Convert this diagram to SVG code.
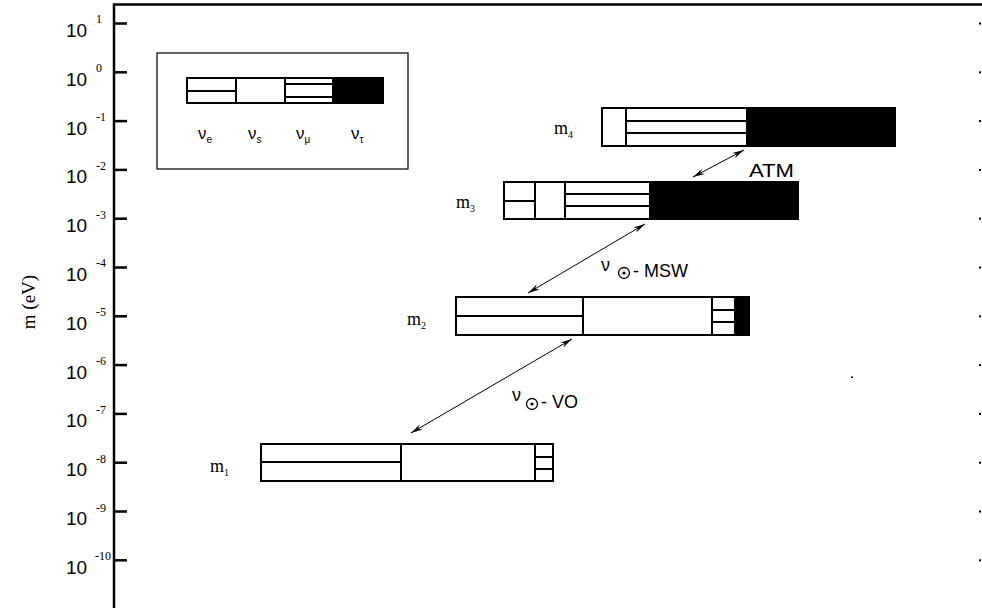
<svg xmlns="http://www.w3.org/2000/svg" width="982" height="608" viewBox="0 0 982 608">
<defs>
<style>
.ax{stroke:#000;stroke-width:2.5;fill:none}
.tk{stroke:#000;stroke-width:2.5}
.bar{fill:#fff;stroke:#000;stroke-width:2}
.ln{stroke:#000;stroke-width:2}
.blk{fill:#000;stroke:#000;stroke-width:2}
.num{font-family:"Liberation Sans",Arial,sans-serif;font-size:19px;fill:#000}
.sup{font-family:"Liberation Serif","Times New Roman",serif;font-size:12px;fill:#000}
.mlab{font-family:"Liberation Serif","Times New Roman",serif;font-size:18px;fill:#000}
.ylab{font-family:"Liberation Serif","Times New Roman",serif;font-size:19px;fill:#000}
.msub{font-family:"Liberation Serif","Times New Roman",serif;font-size:10px;fill:#000}
.lab{font-family:"Liberation Sans",Arial,sans-serif;font-size:18px;fill:#000}
.nu{font-family:"Liberation Sans",Arial,sans-serif;font-size:17px;fill:#000}
.nsub{font-family:"Liberation Sans",Arial,sans-serif;font-size:10px;fill:#000}
.arr{stroke:#000;stroke-width:1;fill:none;marker-start:url(#ah);marker-end:url(#ah)}
.dot{fill:#000}
</style>
<marker id="ah" viewBox="0 0 12 6" refX="12" refY="3" markerWidth="12" markerHeight="6" markerUnits="userSpaceOnUse" orient="auto-start-reverse">
<path d="M0,0 L12,3 L0,6 L4,3 Z" fill="#000"/>
</marker>
</defs>
<rect width="982" height="608" fill="#fff"/>

<g id="axes">
<path class="ax" d="M114,608 L114,4.5 L982,4.5"/>
<g class="tk">
<line x1="114" y1="23.5" x2="127" y2="23.5"/>
<line x1="114" y1="72.3" x2="127" y2="72.3"/>
<line x1="114" y1="121.1" x2="127" y2="121.1"/>
<line x1="114" y1="169.9" x2="127" y2="169.9"/>
<line x1="114" y1="218.7" x2="127" y2="218.7"/>
<line x1="114" y1="267.5" x2="127" y2="267.5"/>
<line x1="114" y1="316.3" x2="127" y2="316.3"/>
<line x1="114" y1="365.1" x2="127" y2="365.1"/>
<line x1="114" y1="413.9" x2="127" y2="413.9"/>
<line x1="114" y1="462.7" x2="127" y2="462.7"/>
<line x1="114" y1="511.5" x2="127" y2="511.5"/>
<line x1="114" y1="560.3" x2="127" y2="560.3"/>
</g>
<g class="dot">
<rect x="979" y="22.5" width="2" height="2"/>
<rect x="979" y="71.3" width="2" height="2"/>
<rect x="979" y="120.1" width="2" height="2"/>
<rect x="979" y="168.9" width="2" height="2"/>
<rect x="979" y="217.7" width="2" height="2"/>
<rect x="979" y="266.5" width="2" height="2"/>
<rect x="979" y="315.3" width="2" height="2"/>
<rect x="979" y="364.1" width="2" height="2"/>
<rect x="979" y="412.9" width="2" height="2"/>
<rect x="979" y="461.7" width="2" height="2"/>
<rect x="979" y="510.5" width="2" height="2"/>
<rect x="979" y="559.3" width="2" height="2"/>
<rect x="851" y="376.5" width="2" height="1.5"/>
</g>
<g id="ticklabels">
<text class="num" x="66" y="37">10</text><text class="sup" x="96" y="23">1</text>
<text class="num" x="66" y="85.8">10</text><text class="sup" x="96" y="72">0</text>
<text class="num" x="66" y="134.6">10</text><text class="sup" x="96" y="121">-1</text>
<text class="num" x="66" y="183.4">10</text><text class="sup" x="96" y="170">-2</text>
<text class="num" x="66" y="232.2">10</text><text class="sup" x="96" y="219">-3</text>
<text class="num" x="66" y="281">10</text><text class="sup" x="96" y="267">-4</text>
<text class="num" x="66" y="329.8">10</text><text class="sup" x="96" y="316">-5</text>
<text class="num" x="66" y="378.6">10</text><text class="sup" x="96" y="365">-6</text>
<text class="num" x="66" y="427.4">10</text><text class="sup" x="96" y="414">-7</text>
<text class="num" x="66" y="476.2">10</text><text class="sup" x="96" y="463">-8</text>
<text class="num" x="66" y="525">10</text><text class="sup" x="96" y="512">-9</text>
<text class="num" x="66" y="573.8">10</text><text class="sup" x="95" y="560">-10</text>
</g>
<text class="ylab" transform="translate(35,302) rotate(-90)" text-anchor="middle">m  (eV)</text>
</g>

<g id="legend">
<rect x="157" y="53" width="251" height="116" fill="#fff" stroke="#000" stroke-width="1.2"/>
<rect class="bar" x="187" y="78" width="196" height="25"/>
<rect class="blk" x="333" y="78" width="50" height="25"/>
<line class="ln" x1="236" y1="78" x2="236" y2="103"/>
<line class="ln" x1="285" y1="78" x2="285" y2="103"/>
<line class="ln" x1="187" y1="91" x2="236" y2="91"/>
<line class="ln" x1="285" y1="84" x2="333" y2="84"/>
<line class="ln" x1="285" y1="97" x2="333" y2="97"/>
<text class="nu" x="198" y="139">ν<tspan class="nsub" dy="4">e</tspan></text>
<text class="nu" x="248" y="139">ν<tspan class="nsub" dy="4">s</tspan></text>
<text class="nu" x="296" y="139">ν<tspan class="nsub" dy="4">μ</tspan></text>
<text class="nu" x="351" y="139">ν<tspan class="nsub" dy="4">τ</tspan></text>
</g>

<g id="m4">
<rect class="bar" x="602" y="108" width="293" height="38"/>
<rect class="blk" x="747" y="108" width="148" height="38"/>
<line class="ln" x1="626" y1="108" x2="626" y2="146"/>
<line class="ln" x1="626" y1="121" x2="747" y2="121"/>
<line class="ln" x1="626" y1="133" x2="747" y2="133"/>
<text class="mlab" x="554" y="134">m<tspan class="msub" dy="4">4</tspan></text>
</g>

<g id="m3">
<rect class="bar" x="504" y="182" width="294" height="37"/>
<rect class="blk" x="650" y="182" width="148" height="37"/>
<line class="ln" x1="535" y1="182" x2="535" y2="219"/>
<line class="ln" x1="565" y1="182" x2="565" y2="219"/>
<line class="ln" x1="504" y1="201" x2="535" y2="201"/>
<line class="ln" x1="565" y1="194" x2="650" y2="194"/>
<line class="ln" x1="565" y1="206" x2="650" y2="206"/>
<text class="mlab" x="456" y="208">m<tspan class="msub" dy="4">3</tspan></text>
</g>

<g id="m2">
<rect class="bar" x="456" y="297" width="293" height="38"/>
<rect class="blk" x="735" y="297" width="14" height="38"/>
<line class="ln" x1="583" y1="297" x2="583" y2="335"/>
<line class="ln" x1="712" y1="297" x2="712" y2="335"/>
<line class="ln" x1="456" y1="316" x2="583" y2="316"/>
<line class="ln" x1="712" y1="310" x2="735" y2="310"/>
<line class="ln" x1="712" y1="322" x2="735" y2="322"/>
<text class="mlab" x="407" y="325">m<tspan class="msub" dy="4">2</tspan></text>
</g>

<g id="m1">
<rect class="bar" x="261" y="444" width="292" height="37"/>
<line class="ln" x1="401" y1="444" x2="401" y2="481"/>
<line class="ln" x1="535" y1="444" x2="535" y2="481"/>
<line class="ln" x1="261" y1="462" x2="401" y2="462"/>
<line class="ln" x1="535" y1="457" x2="553" y2="457"/>
<line class="ln" x1="535" y1="469" x2="553" y2="469"/>
<text class="mlab" x="210" y="472">m<tspan class="msub" dy="4">1</tspan></text>
</g>

<g id="connectors">
<line class="arr" x1="693" y1="177" x2="744" y2="150"/>
<line class="arr" x1="528" y1="293" x2="645" y2="224"/>
<line class="arr" x1="411" y1="433" x2="572" y2="339"/>
</g>

<g id="labels">
<text class="lab" x="749" y="177" textLength="45" lengthAdjust="spacingAndGlyphs">ATM</text>
<text class="lab" x="601" y="271">ν</text>
<circle cx="624" cy="273" r="5.5" fill="none" stroke="#000" stroke-width="1.3"/>
<circle cx="624" cy="273" r="1.6" fill="#000"/>
<text class="lab" x="633" y="277">- MSW</text>
<text class="lab" x="512" y="401">ν</text>
<circle cx="532" cy="404" r="5.5" fill="none" stroke="#000" stroke-width="1.3"/>
<circle cx="532" cy="404" r="1.6" fill="#000"/>
<text class="lab" x="541" y="408">- VO</text>
</g>
</svg>
